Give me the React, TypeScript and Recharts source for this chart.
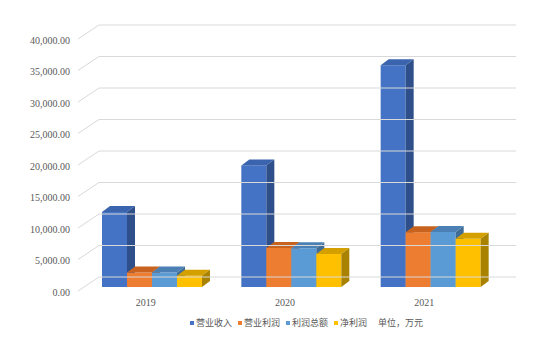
import React from 'react';
import { BarChart, Bar, XAxis, YAxis } from 'recharts';

const years = ['2019', '2020', '2021'];
const revenue = [11900, 19300, 35200];
const operatingProfit = [2300, 6200, 8700];
const totalProfit = [2300, 6150, 8750];
const netProfit = [1800, 5250, 7650];
const yTicks = [0, 5000, 10000, 15000, 20000, 25000, 30000, 35000, 40000];

const series = [
    { key: 'revenue', name: '营业收入', front: '#4472C4', top: '#3B64AE', side: '#2E4F8A' },
    { key: 'operatingProfit', name: '营业利润', front: '#ED7D31', top: '#C8631F', side: '#AE5A22' },
    { key: 'totalProfit', name: '利润总额', front: '#5B9BD5', top: '#4A80B4', side: '#3F6D98' },
    { key: 'netProfit', name: '净利润', front: '#FFC000', top: '#D4A000', side: '#A88200' },
];

const data = years.map((year, i) => ({
    year,
    revenue: revenue[i],
    operatingProfit: operatingProfit[i],
    totalProfit: totalProfit[i],
    netProfit: netProfit[i],
}));

const DX = 8;
const DY = 6;

const makeBox = (s: typeof series[number]) => (props: any) => {
    const { x, y, width, height } = props;
    if (!height || height <= 0) return <g />;
    return (
        <g>
            <rect x={x} y={y} width={width} height={height} fill={s.front} />
            <polygon
                points={`${x},${y} ${x + DX},${y - DY} ${x + width + DX},${y - DY} ${x + width},${y}`}
                fill={s.top}
            />
            <polygon
                points={`${x + width},${y} ${x + width + DX},${y - DY} ${x + width + DX},${y + height - DY} ${x + width},${y + height}`}
                fill={s.side}
            />
        </g>
    );
};

const fmt = (v: number) =>
    v.toLocaleString('en-US', { minimumFractionDigits: 2, maximumFractionDigits: 2 });

// tick label + 3D wall gridline (slant on the side, flat on the back wall)
const YTick = (props: any) => {
    const { y, payload } = props;
    return (
        <g>
            <line x1={78} y1={y + 4} x2={99} y2={y - 10} stroke="#d9d9d9" strokeWidth={1} />
            <line x1={99} y1={y - 10} x2={516} y2={y - 10} stroke="#d9d9d9" strokeWidth={1} />
            <text
                x={70}
                y={y + 5}
                textAnchor="end"
                dominantBaseline="central"
                fontSize={10}
                fill="#595959"
                fontFamily="'Liberation Serif', serif"
            >
                {fmt(payload.value)}
            </text>
        </g>
    );
};

const App = () => {
    return (
        <div style={{ position: 'absolute', left: 0, top: 0, width: 554, height: 337, background: '#fff' }}>
            <BarChart
                width={554}
                height={337}
                data={data}
                margin={{ top: 35, right: 54, left: 0, bottom: 30 }}
                barGap={0}
            >
                <XAxis
                    dataKey="year"
                    axisLine={false}
                    tickLine={false}
                    height={20}
                    tick={{ fontSize: 10, fill: '#595959', fontFamily: "'Liberation Serif', serif" }}
                    dx={-6}
                    dy={4}
                />
                <YAxis
                    width={82}
                    domain={[0, 40000]}
                    ticks={yTicks}
                    axisLine={false}
                    tickLine={false}
                    tick={<YTick />}
                />
                {series.map((s) => (
                    <Bar
                        key={s.key}
                        dataKey={s.key}
                        name={s.name}
                        barSize={25}
                        fill={s.front}
                        shape={makeBox(s)}
                        isAnimationActive={false}
                    />
                ))}
            </BarChart>
            <div
                style={{
                    position: 'absolute',
                    top: 316,
                    left: 190,
                    display: 'flex',
                    alignItems: 'center',
                    fontSize: 9,
                    color: '#595959',
                    fontFamily: "'Noto Sans CJK SC', sans-serif",
                    whiteSpace: 'nowrap',
                }}
            >
                {series.map((s) => (
                    <span key={s.key} style={{ display: 'flex', alignItems: 'center', marginRight: 6 }}>
                        <span style={{ width: 4, height: 4, background: s.front, marginRight: 2 }} />
                        {s.name}
                    </span>
                ))}
                <span style={{ marginLeft: 5 }}>单位，万元</span>
            </div>
        </div>
    );
};

export default App;
